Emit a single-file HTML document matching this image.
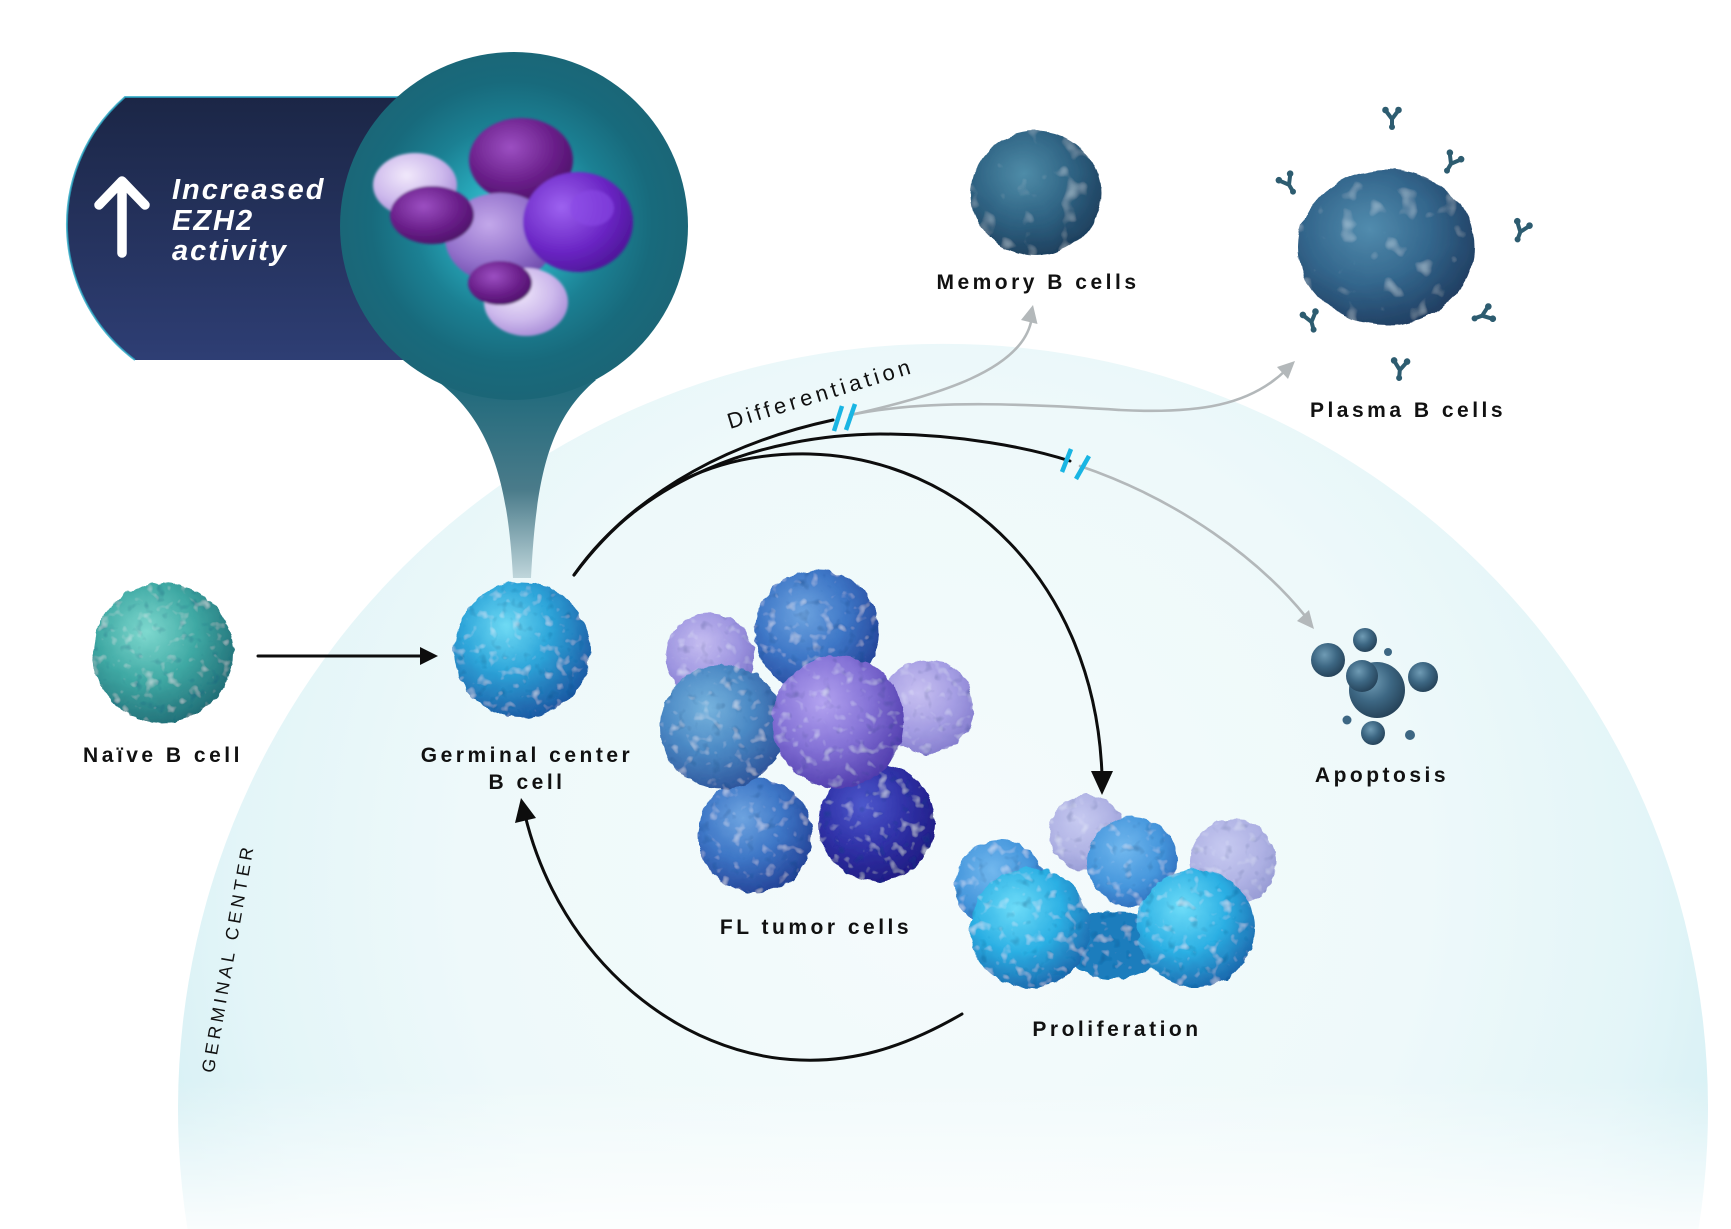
<!DOCTYPE html>
<html>
<head>
<meta charset="utf-8">
<style>
  html,body{margin:0;padding:0;background:#fff;width:1731px;height:1229px;overflow:hidden;}
  svg{display:block;}
  .lbl{font-family:"Liberation Sans",Arial,sans-serif;font-weight:700;font-size:21px;letter-spacing:3.5px;fill:#111;text-anchor:middle;}
</style>
</head>
<body>
<svg xmlns="http://www.w3.org/2000/svg" width="1731" height="1229" viewBox="0 0 1731 1229">
<defs>
  <radialGradient id="dome" gradientUnits="userSpaceOnUse" cx="943" cy="880" r="800">
    <stop offset="0" stop-color="#f5fbfc"/>
    <stop offset="0.6" stop-color="#eef9fa"/>
    <stop offset="0.88" stop-color="#e3f5f8"/>
    <stop offset="1" stop-color="#d9f1f5"/>
  </radialGradient>
  <linearGradient id="fadeW" x1="0" y1="0" x2="0" y2="1">
    <stop offset="0" stop-color="#fff" stop-opacity="0"/>
    <stop offset="1" stop-color="#fff" stop-opacity="0.85"/>
  </linearGradient>
  <linearGradient id="banner" x1="0" y1="0" x2="0" y2="1">
    <stop offset="0" stop-color="#1b2646"/>
    <stop offset="1" stop-color="#2e3e74"/>
  </linearGradient>
  <radialGradient id="bubble" gradientUnits="userSpaceOnUse" cx="512" cy="222" r="176">
    <stop offset="0" stop-color="#45d6e2"/>
    <stop offset="0.3" stop-color="#27a6b8"/>
    <stop offset="0.55" stop-color="#1b8093"/>
    <stop offset="0.8" stop-color="#186a7c"/>
    <stop offset="1" stop-color="#1b6677"/>
  </radialGradient>
  <linearGradient id="stem" gradientUnits="userSpaceOnUse" x1="0" y1="380" x2="0" y2="580">
    <stop offset="0" stop-color="#1e697b"/>
    <stop offset="0.55" stop-color="#4a7b8a"/>
    <stop offset="1" stop-color="#c2d8dd"/>
  </linearGradient>

  <radialGradient id="pDark" cx="0.4" cy="0.35" r="0.7">
    <stop offset="0" stop-color="#9c4fc2"/><stop offset="0.6" stop-color="#6a1f8a"/><stop offset="1" stop-color="#4b0f66"/>
  </radialGradient>
  <radialGradient id="pVivid" cx="0.35" cy="0.35" r="0.75">
    <stop offset="0" stop-color="#9d62f0"/><stop offset="0.6" stop-color="#6a25c4"/><stop offset="1" stop-color="#4a1392"/>
  </radialGradient>
  <radialGradient id="pLight" cx="0.4" cy="0.35" r="0.7">
    <stop offset="0" stop-color="#f1e9fb"/><stop offset="0.6" stop-color="#cdb9ec"/><stop offset="1" stop-color="#a68ad6"/>
  </radialGradient>
  <radialGradient id="pMid" cx="0.4" cy="0.35" r="0.7">
    <stop offset="0" stop-color="#c3a8ea"/><stop offset="0.6" stop-color="#9472cc"/><stop offset="1" stop-color="#6c48aa"/>
  </radialGradient>

  <radialGradient id="gNaive" cx="0.38" cy="0.35" r="0.72">
    <stop offset="0" stop-color="#7fd9cf"/><stop offset="0.5" stop-color="#3ea8a3"/><stop offset="1" stop-color="#1e6872"/>
  </radialGradient>
  <radialGradient id="gGC" cx="0.38" cy="0.33" r="0.72">
    <stop offset="0" stop-color="#6fdaf4"/><stop offset="0.45" stop-color="#2ea6da"/><stop offset="1" stop-color="#1b55a0"/>
  </radialGradient>
  <radialGradient id="gMem" cx="0.4" cy="0.35" r="0.72">
    <stop offset="0" stop-color="#4f8ca8"/><stop offset="0.5" stop-color="#306585"/><stop offset="1" stop-color="#1b3a58"/>
  </radialGradient>
  <radialGradient id="gPla" cx="0.4" cy="0.38" r="0.72">
    <stop offset="0" stop-color="#528cae"/><stop offset="0.5" stop-color="#33668c"/><stop offset="1" stop-color="#1c3558"/>
  </radialGradient>
  <radialGradient id="gApo" cx="0.4" cy="0.35" r="0.7">
    <stop offset="0" stop-color="#6f9bb4"/><stop offset="0.5" stop-color="#3d6783"/><stop offset="1" stop-color="#233f55"/>
  </radialGradient>
  <radialGradient id="gLav" cx="0.4" cy="0.35" r="0.72">
    <stop offset="0" stop-color="#c0b6f0"/><stop offset="0.55" stop-color="#978ddf"/><stop offset="1" stop-color="#6d63c4"/>
  </radialGradient>
  <radialGradient id="gBlue" cx="0.38" cy="0.35" r="0.72">
    <stop offset="0" stop-color="#6ea4e0"/><stop offset="0.5" stop-color="#3d76c6"/><stop offset="1" stop-color="#223f94"/>
  </radialGradient>
  <radialGradient id="gTBlue" cx="0.38" cy="0.35" r="0.72">
    <stop offset="0" stop-color="#78b4de"/><stop offset="0.5" stop-color="#4a88c4"/><stop offset="1" stop-color="#2a4f96"/>
  </radialGradient>
  <radialGradient id="gPur" cx="0.38" cy="0.35" r="0.72">
    <stop offset="0" stop-color="#b3a3f0"/><stop offset="0.5" stop-color="#8472d6"/><stop offset="1" stop-color="#4a36a8"/>
  </radialGradient>
  <radialGradient id="gInd" cx="0.38" cy="0.35" r="0.72">
    <stop offset="0" stop-color="#4d58cc"/><stop offset="0.5" stop-color="#3032a8"/><stop offset="1" stop-color="#1f1a80"/>
  </radialGradient>
  <radialGradient id="gCyan" cx="0.38" cy="0.33" r="0.75">
    <stop offset="0" stop-color="#6edcf8"/><stop offset="0.5" stop-color="#2cb0e4"/><stop offset="1" stop-color="#1a5fa6"/>
  </radialGradient>
  <radialGradient id="gBBack" cx="0.4" cy="0.35" r="0.72">
    <stop offset="0" stop-color="#72b8ee"/><stop offset="0.6" stop-color="#4596dc"/><stop offset="1" stop-color="#2c68b8"/>
  </radialGradient>
  <radialGradient id="gLBack" cx="0.4" cy="0.35" r="0.72">
    <stop offset="0" stop-color="#c0c2f0"/><stop offset="0.6" stop-color="#a3a5e0"/><stop offset="1" stop-color="#8488cc"/>
  </radialGradient>

  <filter id="bump" x="-15%" y="-15%" width="130%" height="130%">
    <feTurbulence type="fractalNoise" baseFrequency="0.09" numOctaves="2" seed="7" result="n"/>
    <feDisplacementMap in="SourceGraphic" in2="n" scale="7" xChannelSelector="R" yChannelSelector="G" result="d"/>
    <feColorMatrix in="n" type="matrix" values="0 0 0 0 0.9  0 0 0 0 0.95  0 0 0 0 1  1.4 0 0 0 -0.82" result="hl"/>
    <feComposite in="hl" in2="d" operator="in" result="hl2"/>
    <feColorMatrix in="n" type="matrix" values="0 0 0 0 0  0 0 0 0 0.05  0 0 0 0 0.2  0 -1.5 0 0 0.58" result="sh"/>
    <feComposite in="sh" in2="d" operator="in" result="sh2"/>
    <feMerge><feMergeNode in="d"/><feMergeNode in="sh2"/><feMergeNode in="hl2"/></feMerge>
  </filter>
  <filter id="bump2" x="-15%" y="-15%" width="130%" height="130%">
    <feTurbulence type="fractalNoise" baseFrequency="0.05" numOctaves="2" seed="3" result="n"/>
    <feDisplacementMap in="SourceGraphic" in2="n" scale="6" xChannelSelector="R" yChannelSelector="G" result="d"/>
    <feColorMatrix in="n" type="matrix" values="0 0 0 0 0.7  0 0 0 0 0.9  0 0 0 0 1  1.2 0 0 0 -0.72" result="hl"/>
    <feComposite in="hl" in2="d" operator="in" result="hl2"/>
    <feMerge><feMergeNode in="d"/><feMergeNode in="hl2"/></feMerge>
  </filter>
  <filter id="soft" x="-10%" y="-10%" width="120%" height="120%">
    <feGaussianBlur stdDeviation="1.2"/>
  </filter>

  <g id="ab">
    <path d="M0,10 L0,2 M0,2 L-6,-6 M0,2 L6,-6" stroke="#2d5c70" stroke-width="4" stroke-linecap="round" fill="none"/>
    <circle cx="-6.5" cy="-7" r="3.3" fill="#2d5c70"/>
    <circle cx="6.5" cy="-7" r="3.3" fill="#2d5c70"/>
    <circle cx="0" cy="10" r="3" fill="#2d5c70"/>
  </g>
</defs>

<rect width="1731" height="1229" fill="#fff"/>

<!-- Germinal center dome (clipped at bottom edge) -->
<path d="M187.5,1229 A765,765 0 1 1 1698.5,1229 Z" fill="url(#dome)"/>
<rect x="0" y="1080" width="1731" height="149" fill="url(#fadeW)"/>

<!-- Banner -->
<path d="M125,97 L440,97 L440,360 L135,360 A169,169 0 0 1 125,97 Z" fill="url(#banner)"/>
<path d="M440,97 L125,97 A169,169 0 0 0 135,360" fill="none" stroke="#2aa8c4" stroke-width="2" opacity="0.8"/>

<!-- Stem & bubble -->
<path d="M436,380 C490,420 508,480 513,578 L531,578 C536,480 548,420 596,380 Z" fill="url(#stem)"/>
<circle cx="514" cy="226" r="174" fill="url(#bubble)"/>

<!-- Protein -->
<g filter="url(#soft)">
  <ellipse cx="521" cy="160" rx="52" ry="42" fill="url(#pDark)"/>
  <ellipse cx="500" cy="238" rx="55" ry="45" fill="url(#pMid)"/>
  <ellipse cx="578" cy="222" rx="55" ry="50" fill="url(#pVivid)"/>
  <ellipse cx="415" cy="185" rx="42" ry="32" fill="url(#pLight)"/>
  <ellipse cx="432" cy="215" rx="42" ry="29" fill="url(#pDark)"/>
  <ellipse cx="526" cy="302" rx="42" ry="34" fill="url(#pLight)"/>
  <ellipse cx="500" cy="283" rx="32" ry="22" fill="url(#pDark)"/>
  <ellipse cx="592" cy="208" rx="22" ry="18" fill="#8a4ae6" opacity="0.6"/>
</g>

<!-- Up arrow + text -->
<path d="M122,253 L122,184 M99,205 L122,181 L145,205" stroke="#fff" stroke-width="9.5" stroke-linecap="round" stroke-linejoin="round" fill="none"/>
<g font-family="'Liberation Sans',Arial,sans-serif" font-weight="700" font-style="italic" font-size="29" fill="#fff" letter-spacing="2">
  <text x="172" y="199">Increased</text>
  <text x="172" y="230">EZH2</text>
  <text x="172" y="260">activity</text>
</g>

<!-- Cells -->
<g filter="url(#bump)">
  <circle cx="163" cy="653" r="70" fill="url(#gNaive)"/>
  <circle cx="522" cy="650" r="68" fill="url(#gGC)"/>
</g>

<g filter="url(#bump2)">
  <ellipse cx="1036" cy="193" rx="65" ry="62" fill="url(#gMem)"/>
  <ellipse cx="1386" cy="247" rx="88" ry="78" fill="url(#gPla)"/>
</g>

<!-- antibodies -->
<use href="#ab" transform="translate(1392,117)"/>
<use href="#ab" transform="translate(1452,162) rotate(30)"/>
<use href="#ab" transform="translate(1288,183) rotate(-30)"/>
<use href="#ab" transform="translate(1521,230) rotate(20)"/>
<use href="#ab" transform="translate(1311,320) rotate(-15)"/>
<use href="#ab" transform="translate(1484,315) rotate(70)"/>
<use href="#ab" transform="translate(1400,368) rotate(5)"/>

<!-- FL tumor cluster -->
<g filter="url(#bump)">
  <circle cx="710" cy="657" r="44" fill="url(#gLav)" opacity="0.9"/>
  <circle cx="927" cy="707" r="47" fill="url(#gLav)" opacity="0.85"/>
  <circle cx="817" cy="632" r="62" fill="url(#gBlue)"/>
  <circle cx="755" cy="835" r="57" fill="url(#gBlue)"/>
  <circle cx="877" cy="823" r="58" fill="url(#gInd)"/>
  <circle cx="722" cy="727" r="62" fill="url(#gTBlue)"/>
  <circle cx="838" cy="722" r="66" fill="url(#gPur)"/>
</g>

<!-- Proliferation -->
<g filter="url(#bump)">
  <circle cx="1087" cy="833" r="38" fill="url(#gLBack)" opacity="0.85"/>
  <circle cx="1233" cy="862" r="43" fill="url(#gLBack)" opacity="0.85"/>
  <circle cx="1000" cy="885" r="45" fill="url(#gBBack)"/>
  <circle cx="1132" cy="862" r="45" fill="url(#gBBack)"/>
  <ellipse cx="1113" cy="945" rx="50" ry="34" fill="#1f7dbd"/>
  <circle cx="1030" cy="928" r="60" fill="url(#gCyan)"/>
  <circle cx="1196" cy="928" r="59" fill="url(#gCyan)"/>
</g>

<!-- Apoptosis -->
<g>
  <circle cx="1377" cy="690" r="28" fill="url(#gApo)"/>
  <circle cx="1362" cy="676" r="16" fill="url(#gApo)"/>
  <circle cx="1328" cy="660" r="17" fill="url(#gApo)"/>
  <circle cx="1365" cy="640" r="12" fill="url(#gApo)"/>
  <circle cx="1423" cy="677" r="15" fill="url(#gApo)"/>
  <circle cx="1373" cy="733" r="12" fill="url(#gApo)"/>
  <circle cx="1347" cy="720" r="4.5" fill="#3d6783"/>
  <circle cx="1388" cy="652" r="4" fill="#3d6783"/>
  <circle cx="1410" cy="735" r="5" fill="#3d6783"/>
</g>

<!-- Gray arrows -->
<g stroke="#b3b8ba" stroke-width="2.6" fill="none" stroke-linecap="round">
  <path d="M850,415 C940,395 1020,370 1031,322"/>
  <path d="M850,415 C930,398 1040,405 1120,410 C1200,414 1250,405 1286,370"/>
  <path d="M1080,466 C1180,500 1260,560 1306,617"/>
</g>
<g fill="#b3b8ba">
  <polygon points="1033,305 1037.5,324 1021,320"/>
  <polygon points="1295,361 1288,379 1277,367"/>
  <polygon points="1314,629 1309,610 1297,621"/>
</g>

<!-- Black arrows -->
<g stroke="#0d0d0d" stroke-width="3" fill="none" stroke-linecap="round">
  <path d="M574,575 C640,485 740,440 833,420"/>
  <path d="M574,575 C640,480 760,435 880,434 C960,434 1030,448 1070,461"/>
  <path d="M574,575 C640,485 720,452 810,454 C960,458 1095,580 1102,775"/>
  <path d="M962,1014 C900,1050 850,1062 800,1060 C680,1056 560,960 525,815"/>
  <line x1="258" y1="656" x2="424" y2="656"/>
</g>
<g fill="#0d0d0d">
  <polygon points="1091,771 1113,771 1102,795"/>
  <polygon points="521,798 536,818 515,823"/>
  <polygon points="438,656 420,647 420,665"/>
</g>

<!-- Hash marks -->
<g stroke="#19b5e3" stroke-width="4.5" stroke-linecap="butt">
  <line x1="834" y1="431" x2="842" y2="406"/>
  <line x1="846" y1="430" x2="855" y2="404"/>
  <line x1="1062" y1="472" x2="1071" y2="449"/>
  <line x1="1076" y1="479" x2="1089" y2="456"/>
</g>

<!-- Labels -->
<text class="lbl" x="163" y="762">Naïve B cell</text>
<text class="lbl" x="527" y="762">Germinal center</text>
<text class="lbl" x="527" y="789">B cell</text>
<text class="lbl" x="816" y="934">FL tumor cells</text>
<text class="lbl" x="1117" y="1036">Proliferation</text>
<text class="lbl" x="1382" y="782">Apoptosis</text>
<text class="lbl" x="1038" y="289">Memory B cells</text>
<text class="lbl" x="1408" y="417">Plasma B cells</text>

<text x="730" y="429" transform="rotate(-17 730 429)" font-family="'Liberation Sans',Arial,sans-serif" font-size="22" letter-spacing="3.9" fill="#111">Differentiation</text>

<text x="228" y="958" transform="rotate(-80 228 958)" text-anchor="middle" dominant-baseline="central" font-family="'Liberation Sans',Arial,sans-serif" font-size="18" letter-spacing="4" fill="#111">GERMINAL CENTER</text>
</svg>
</body>
</html>
